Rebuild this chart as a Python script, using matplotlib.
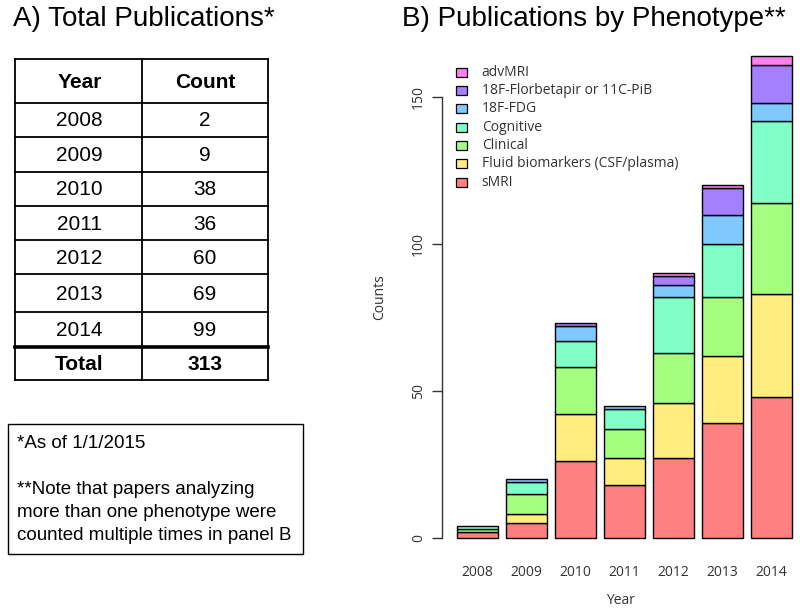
import matplotlib
matplotlib.use("Agg")
import matplotlib.pyplot as plt
from matplotlib.patches import Rectangle
import numpy as np

# ---------------- data ----------------
table_years = ["2008", "2009", "2010", "2011", "2012", "2013", "2014"]
table_counts = ["2", "9", "38", "36", "60", "69", "99"]
table_total = "313"

bar_years = ["2008", "2009", "2010", "2011", "2012", "2013", "2014"]
phenotypes = ["sMRI", "Fluid biomarkers (CSF/plasma)", "Clinical", "Cognitive",
              "18F-FDG", "18F-Florbetapir or 11C-PiB", "advMRI"]
sMRI = [2, 5, 26, 18, 27, 39, 48]
fluid = [0, 3, 16, 9, 19, 23, 35]
clinical = [1, 7, 16, 10, 17, 20, 31]
cognitive = [1, 4, 9, 7, 19, 18, 28]
fdg = [0, 1, 5, 1, 4, 10, 6]
amyloid = [0, 0, 1, 0, 3, 9, 13]
advmri = [0, 0, 0, 0, 1, 1, 3]
series = [sMRI, fluid, clinical, cognitive, fdg, amyloid, advmri]
colors = ["#FF8080", "#FFED80", "#A4FF80", "#80FFC9", "#80C9FF", "#A480FF", "#FF80ED"]

notes = ["*As of 1/1/2015", "", "**Note that papers analyzing",
         "more than one phenotype were", "counted multiple times in panel B"]

# ---------------- figure ----------------
W, H = 800, 613
fig = plt.figure(figsize=(W / 100, H / 100), dpi=100)

# overlay in pixel coordinates for panel A, titles and legend
ov = fig.add_axes([0, 0, 1, 1])
ov.set_xlim(0, W)
ov.set_ylim(H, 0)
ov.axis("off")

tfont = "Liberation Sans"
ov.text(13, 19, "A) Total Publications*", fontsize=20, family=tfont,
        va="center", ha="left", color="black")
ov.text(402, 19, "B) Publications by Phenotype**", fontsize=20, family=tfont,
        va="center", ha="left", color="black")

# table
col_x = [15, 141.7, 268.3]
row_y = [59.3, 102.7, 137, 171.7, 206, 240, 274.3, 312.3, 346.7, 380]
lw = 1.3
for x in col_x:
    ov.plot([x, x], [row_y[0], row_y[-1]], color="black", lw=lw, solid_capstyle="projecting")
for i, y in enumerate(row_y):
    ov.plot([col_x[0], col_x[-1]], [y, y], color="black",
            lw=(2.6 if i == 8 else lw), solid_capstyle="projecting")
cx1 = (col_x[0] + col_x[1]) / 2 + 1
cx2 = (col_x[1] + col_x[2]) / 2
def rc(i):
    return (row_y[i] + row_y[i + 1]) / 2 + 1
ov.text(cx1, rc(0), "Year", fontsize=15, family=tfont, weight="bold", ha="center", va="center")
ov.text(cx2, rc(0), "Count", fontsize=15, family=tfont, weight="bold", ha="center", va="center")
for i, (yr, ct) in enumerate(zip(table_years, table_counts)):
    ov.text(cx1, rc(i + 1), yr, fontsize=15, family=tfont, ha="center", va="center")
    ov.text(cx2, rc(i + 1), ct, fontsize=15, family=tfont, ha="center", va="center")
ov.text(cx1, rc(8), "Total", fontsize=15, family=tfont, weight="bold", ha="center", va="center")
ov.text(cx2, rc(8), table_total, fontsize=15, family=tfont, weight="bold", ha="center", va="center")

# footnote box
ov.add_patch(Rectangle((8.3, 424), 295, 130, fill=False, edgecolor="black", lw=1.0))
line_ys = [444, 467, 490, 512.7, 535]
for t, y in zip(notes, line_ys):
    if t:
        ov.text(16.7, y, t, fontsize=13.5, family=tfont, ha="left", va="center")

# ---------------- panel B bar chart ----------------
gray = "#333333"
bfont = "Open Sans"
px_unit = 40.85
x0_px = 456.7
left_px, right_px = 441.7, 800
xmin = 0.2 - (x0_px - left_px) / px_unit
xmax = 0.2 + (right_px - x0_px) / px_unit
top_px, bot_px = 36.9, 557
ax = fig.add_axes([left_px / W, 1 - bot_px / H, (right_px - left_px) / W, (bot_px - top_px) / H])
ax.set_xlim(xmin, xmax)
ax.set_ylim(-6.56, 170.56)
ax.patch.set_alpha(0)

pos = 0.7 + 1.2 * np.arange(len(bar_years))
bottom = np.zeros(len(bar_years))
for vals, col, name in zip(series, colors, phenotypes):
    v = np.array(vals, dtype=float)
    mask = v > 0
    ax.bar(pos[mask], v[mask], width=1.0, bottom=bottom[mask], color=col,
           edgecolor="black", linewidth=1.0, label=name)
    bottom += v

for s in ["top", "right", "bottom"]:
    ax.spines[s].set_visible(False)
ax.spines["left"].set_bounds(0, 150)
ax.spines["left"].set_color(gray)
ax.spines["left"].set_linewidth(1.0)
ax.set_yticks([0, 50, 100, 150])
ax.set_yticklabels(["0", "50", "100", "150"], rotation=90, va="center",
                   fontsize=10, family=bfont, color=gray)
ax.tick_params(axis="y", length=7.2, width=1.0, color=gray, pad=4)
ax.set_xticks(pos)
ax.set_xticklabels(bar_years, fontsize=10, family=bfont, color=gray)
ax.tick_params(axis="x", length=0, pad=6)
ax.set_xlabel("Year", fontsize=10, family=bfont, color=gray, labelpad=9)
ax.set_ylabel("Counts", fontsize=10, family=bfont, color=gray, labelpad=17)

# legend (manual, reversed order like the reference)
leg_y0 = 72.3
leg_dy = 18.3
for k, (name, col) in enumerate(zip(phenotypes[::-1], colors[::-1])):
    y = leg_y0 + k * leg_dy
    ov.add_patch(Rectangle((456.2, y - 4.5), 11, 9, facecolor=col, edgecolor="black", lw=0.9))
    ov.text(481.7, y, name, fontsize=10, family=bfont, color=gray, ha="left", va="center")

fig.savefig("out.png", dpi=100)
